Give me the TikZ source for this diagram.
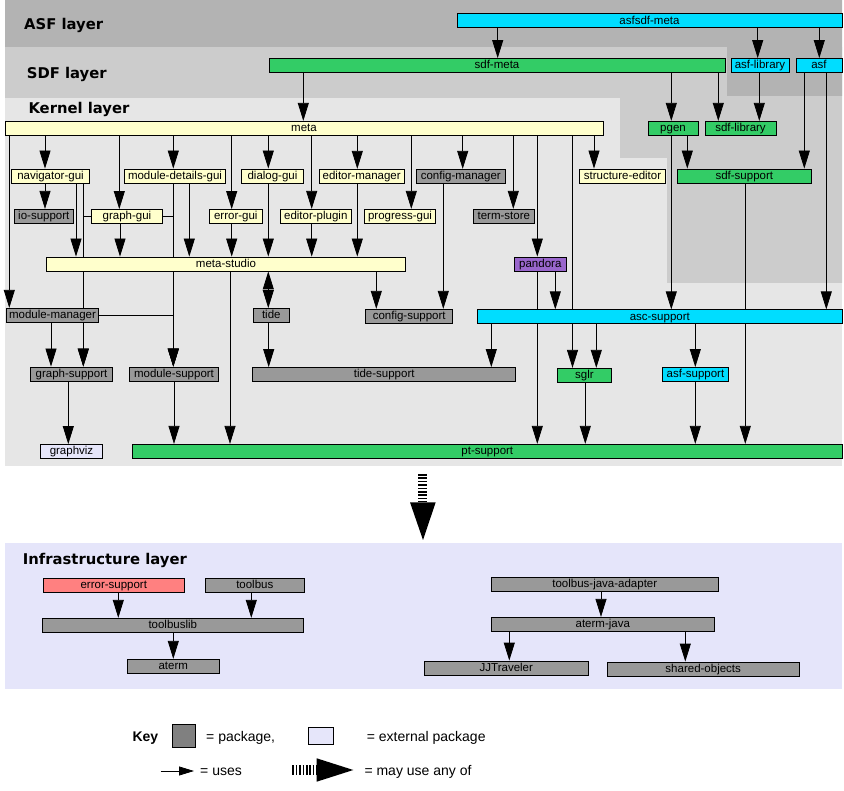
\documentclass[tikz,border=0pt]{standalone}
\usepackage{fontspec}
\setmainfont{Liberation Sans}
\newfontfamily\layerfont{DejaVu Sans}
\usepackage{tikz}
\usetikzlibrary{arrows.meta}
\pgfdeclarelayer{back}
\pgfdeclarelayer{wires}
\pgfsetlayers{back,wires,main}
\definecolor{asfbg}{RGB}{179,179,179}
\definecolor{sdfbg}{RGB}{204,204,204}
\definecolor{kernelbg}{RGB}{230,230,230}
\definecolor{infrabg}{RGB}{229,229,250}
\definecolor{guiyellow}{RGB}{255,255,204}
\definecolor{pkggray}{RGB}{153,153,153}
\definecolor{sdfgreen}{RGB}{51,204,102}
\definecolor{asfcyan}{RGB}{0,221,255}
\definecolor{pandorapurple}{RGB}{153,102,204}
\definecolor{errred}{RGB}{255,128,128}
\definecolor{extlav}{RGB}{230,230,250}
\definecolor{keygray}{RGB}{128,128,128}

\begin{document}
\begin{tikzpicture}[x=1pt,y=-1pt,
	pkg/.style={draw=black, line width=0.8pt, inner sep=0pt, minimum height=14pt,
		text height=8pt, text depth=1pt, font=\fontsize{11.5}{12}\selectfont},
	gui/.style={pkg, fill=guiyellow},
	core/.style={pkg, fill=pkggray},
	sdfpkg/.style={pkg, fill=sdfgreen},
	asfpkg/.style={pkg, fill=asfcyan},
	extpkg/.style={pkg, fill=extlav},
	uses/.style={line width=0.8pt, -{Triangle[length=18pt,width=11pt]}},
	both/.style={line width=0.8pt, {Triangle[length=18pt,width=11pt]}-{Triangle[length=18pt,width=11pt]}},
	layer/.style={anchor=base west, inner sep=0pt, font=\layerfont\bfseries\fontsize{14.8}{16}\selectfont},
	keytext/.style={anchor=base west, inner sep=0pt, font=\fontsize{14}{16}\selectfont}]
	\useasboundingbox (0,0) rectangle (844,791);
	\begin{pgfonlayer}{back}
		\fill[kernelbg] (5,98) rectangle (842,466);
		\fill[sdfbg] (5,47) -- (842,47) -- (842,283) -- (667,283) -- (667,158) -- (620,158) -- (620,98) -- (5,98) -- cycle;
		\fill[asfbg] (5,0) -- (842,0) -- (842,96) -- (727,96) -- (727,47) -- (5,47) -- cycle;
		\fill[infrabg] (5,543) rectangle (842,689);
	\end{pgfonlayer}
	\node[layer] (asflayer) at (24,30) {ASF layer};
	\node[layer] (sdflayer) at (26.7,78.3) {SDF layer};
	\node[layer] (kernellayer) at (28.3,113.3) {Kernel layer};
	\node[layer] (infralayer) at (22.7,565) {Infrastructure layer};
	\node[asfpkg, minimum width=385pt] (asfsdfmeta) at (649.5,20.8) {asfsdf-meta};
	\node[sdfpkg, minimum width=456pt] (sdfmeta) at (497,65.5) {sdf-meta};
	\node[asfpkg, minimum width=58pt] (asflib) at (760,65.5) {asf-library};
	\node[asfpkg, minimum width=46pt] (asf) at (819,65.5) {asf};
	\node[gui, minimum width=598pt] (meta) at (304,128.3) {meta};
	\node[sdfpkg, minimum width=50pt] (pgen) at (673,128.3) {pgen};
	\node[sdfpkg, minimum width=71pt] (sdflib) at (740.5,128.3) {sdf-library};
	\node[gui, minimum width=77.6pt] (navgui) at (50.5,176) {navigator-gui};
	\node[gui, minimum width=101.4pt] (moddetails) at (175,176) {module-details-gui};
	\node[gui, minimum width=61.6pt] (dialoggui) at (272.5,176) {dialog-gui};
	\node[gui, minimum width=84.7pt] (editormgr) at (361.7,176.3) {editor-manager};
	\node[core, minimum width=89pt] (configmgr) at (460.8,176.3) {config-manager};
	\node[gui, minimum width=86.4pt] (structed) at (622.5,176) {structure-editor};
	\node[sdfpkg, minimum width=134pt] (sdfsupport) at (744.3,176) {sdf-support};
	\node[core, minimum width=59pt] (iosupport) at (43.8,216.3) {io-support};
	\node[gui, minimum width=70.6pt] (graphgui) at (127,216.5) {graph-gui};
	\node[gui, minimum width=53.7pt] (errorgui) at (235.8,216.5) {error-gui};
	\node[gui, minimum width=71.7pt] (editorplugin) at (315.8,216.3) {editor-plugin};
	\node[gui, minimum width=71.4pt] (progressgui) at (400,216.3) {progress-gui};
	\node[core, minimum width=61pt] (termstore) at (503.8,216.3) {term-store};
	\node[gui, minimum width=358.6pt] (metastudio) at (226,264) {meta-studio};
	\node[pkg, fill=pandorapurple, minimum width=51.3pt] (pandora) at (540.3,264) {pandora};
	\node[core, minimum width=91.6pt] (modmgr) at (52.5,315.3) {module-manager};
	\node[core, minimum width=36pt] (tide) at (271.3,315.5) {tide};
	\node[core, minimum width=87pt] (configsupport) at (409.2,316.3) {config-support};
	\node[asfpkg, minimum width=365pt] (ascsupport) at (659.8,316.8) {asc-support};
	\node[core, minimum width=82.4pt] (graphsupport) at (71.5,374) {graph-support};
	\node[core, minimum width=89.4pt] (modsupport) at (174,374) {module-support};
	\node[core, minimum width=263pt] (tidesupport) at (384.2,374.5) {tide-support};
	\node[sdfpkg, minimum width=54.4pt] (sglr) at (584.5,375.3) {sglr};
	\node[asfpkg, minimum width=66.4pt] (asfsupport) at (695.5,374.5) {asf-support};
	\node[extpkg, minimum width=62.4pt] (graphviz) at (71.5,451.5) {graphviz};
	\node[sdfpkg, minimum width=709.3pt] (ptsupport) at (487.3,451.3) {pt-support};
	\node[pkg, fill=errred, minimum width=141pt] (errorsupport) at (113.8,585) {error-support};
	\node[core, minimum width=99pt] (toolbus) at (254.8,585) {toolbus};
	\node[core, minimum width=261pt] (toolbuslib) at (172.8,625.3) {toolbuslib};
	\node[core, minimum width=92pt] (aterm) at (173.3,666.3) {aterm};
	\node[core, minimum width=227pt] (tbjava) at (604.8,584.2) {toolbus-java-adapter};
	\node[core, minimum width=223pt] (atermjava) at (602.8,624.3) {aterm-java};
	\node[core, minimum width=164.7pt] (jjtraveler) at (506.3,668) {JJTraveler};
	\node[core, minimum width=191.7pt] (sharedobj) at (703.2,669) {shared-objects};
	\begin{pgfonlayer}{wires}
		\draw[uses] (497.7,0 |- asfsdfmeta.south) -- (497.7,0 |- sdfmeta.north);
		\draw[uses] (757.7,0 |- asfsdfmeta.south) -- (757.7,0 |- asflib.north);
		\draw[uses] (819.3,0 |- asfsdfmeta.south) -- (819.3,0 |- asf.north);
		\draw[uses] (303.3,0 |- sdfmeta.south) -- (303.3,0 |- meta.north);
		\draw[uses] (671.3,0 |- sdfmeta.south) -- (671.3,0 |- pgen.north);
		\draw[uses] (718.3,0 |- sdfmeta.south) -- (718.3,0 |- sdflib.north);
		\draw[uses] (759.3,0 |- asflib.south) -- (759.3,0 |- sdflib.north);
		\draw[uses] (804.3,0 |- asf.south) -- (804.3,0 |- sdfsupport.north);
		\draw[uses] (826.3,0 |- asf.south) -- (826.3,0 |- ascsupport.north);
		\draw[uses] (687.3,0 |- pgen.south) -- (687.3,0 |- sdfsupport.north);
		\draw[uses] (671.3,0 |- pgen.south) -- (671.3,0 |- ascsupport.north);
		\draw[uses] (745.3,0 |- sdfsupport.south) -- (745.3,0 |- ptsupport.north);
		\draw[uses] (9.3,0 |- meta.south) -- (9.3,0 |- modmgr.north);
		\draw[uses] (45,0 |- meta.south) -- (45,0 |- navgui.north);
		\draw[uses] (119.3,0 |- meta.south) -- (119.3,0 |- graphgui.north);
		\draw[uses] (173.3,0 |- meta.south) -- (173.3,0 |- moddetails.north);
		\draw[uses] (231.7,0 |- meta.south) -- (231.7,0 |- errorgui.north);
		\draw[uses] (268.3,0 |- meta.south) -- (268.3,0 |- dialoggui.north);
		\draw[uses] (311.7,0 |- meta.south) -- (311.7,0 |- editorplugin.north);
		\draw[uses] (357.3,0 |- meta.south) -- (357.3,0 |- editormgr.north);
		\draw[uses] (411.3,0 |- meta.south) -- (411.3,0 |- progressgui.north);
		\draw[uses] (462.7,0 |- meta.south) -- (462.7,0 |- configmgr.north);
		\draw[uses] (513.3,0 |- meta.south) -- (513.3,0 |- termstore.north);
		\draw[uses] (537.3,0 |- meta.south) -- (537.3,0 |- pandora.north);
		\draw[uses] (572.5,0 |- meta.south) -- (572.5,0 |- sglr.north);
		\draw[uses] (594,0 |- meta.south) -- (594,0 |- structed.north);
		\draw[uses] (45,0 |- navgui.south) -- (45,0 |- iosupport.north);
		\draw[uses] (76,0 |- navgui.south) -- (76,0 |- metastudio.north);
		\draw[uses] (83.3,0 |- navgui.south) -- (83.3,0 |- graphsupport.north);
		\draw[uses] (120,0 |- graphgui.south) -- (120,0 |- metastudio.north);
		\draw[uses] (graphgui.west) -| (83.3,0 |- graphsupport.north);
		\draw[uses] (graphgui.east) -| (173.3,0 |- modsupport.north);
		\draw[uses] (189.3,0 |- moddetails.south) -- (189.3,0 |- metastudio.north);
		\draw[uses] (173.3,0 |- moddetails.south) -- (173.3,0 |- modsupport.north);
		\draw[uses] (231.7,0 |- errorgui.south) -- (231.7,0 |- metastudio.north);
		\draw[uses] (268.3,0 |- dialoggui.south) -- (268.3,0 |- metastudio.north);
		\draw[uses] (311.7,0 |- editorplugin.south) -- (311.7,0 |- metastudio.north);
		\draw[uses] (357.3,0 |- editormgr.south) -- (357.3,0 |- metastudio.north);
		\draw[uses] (443.3,0 |- configmgr.south) -- (443.3,0 |- configsupport.north);
		\draw[both] (268.3,0 |- metastudio.south) -- (268.3,0 |- tide.north);
		\draw[uses] (376.3,0 |- metastudio.south) -- (376.3,0 |- configsupport.north);
		\draw[uses] (230,0 |- metastudio.south) -- (230,0 |- ptsupport.north);
		\draw[uses] (268.7,0 |- tide.south) -- (268.7,0 |- tidesupport.north);
		\draw[uses] (51,0 |- modmgr.south) -- (51,0 |- graphsupport.north);
		\draw[uses] (modmgr.east) -| (173.3,0 |- modsupport.north);
		\draw[uses] (68.3,0 |- graphsupport.south) -- (68.3,0 |- graphviz.north);
		\draw[uses] (174,0 |- modsupport.south) -- (174,0 |- ptsupport.north);
		\draw[uses] (555.3,0 |- pandora.south) -- (555.3,0 |- ascsupport.north);
		\draw[uses] (537.3,0 |- pandora.south) -- (537.3,0 |- ptsupport.north);
		\draw[uses] (491.3,0 |- ascsupport.south) -- (491.3,0 |- tidesupport.north);
		\draw[uses] (596.3,0 |- ascsupport.south) -- (596.3,0 |- sglr.north);
		\draw[uses] (695.3,0 |- ascsupport.south) -- (695.3,0 |- asfsupport.north);
		\draw[uses] (585.3,0 |- sglr.south) -- (585.3,0 |- ptsupport.north);
		\draw[uses] (695.3,0 |- asfsupport.south) -- (695.3,0 |- ptsupport.north);
		\draw[uses] (118.3,0 |- errorsupport.south) -- (118.3,0 |- toolbuslib.north);
		\draw[uses] (251.3,0 |- toolbus.south) -- (251.3,0 |- toolbuslib.north);
		\draw[uses] (173.3,0 |- toolbuslib.south) -- (173.3,0 |- aterm.north);
		\draw[uses] (601,0 |- tbjava.south) -- (601,0 |- atermjava.north);
		\draw[uses] (509.3,0 |- atermjava.south) -- (509.3,0 |- jjtraveler.north);
		\draw[uses] (685.3,0 |- atermjava.south) -- (685.3,0 |- sharedobj.north);
	\end{pgfonlayer}
	\coordinate (mayfrom) at (422.8,474);
	\coordinate (mayto) at (422.8,502.3);
	\draw[line width=9pt, dash pattern=on 1.7pt off 1.7pt] (mayfrom) -- (mayto);
	\fill (410,502.3) -- (435.7,502.3) -- (423,540) -- cycle;
	\node[keytext, font=\fontsize{14}{16}\selectfont\bfseries] (keylabel) at (132.3,741) {Key};
	\node[draw, line width=0.8pt, fill=keygray, minimum width=23.4pt, minimum height=23.7pt, inner sep=0pt] (keypkg) at (184,735.8) {};
	\node[keytext] (keypkgtext) at (206,741) {= package,};
	\node[draw, line width=0.8pt, fill=extlav, minimum width=24.7pt, minimum height=16.6pt, inner sep=0pt] (keyext) at (320.6,736) {};
	\node[keytext] (keyexttext) at (366.7,741) {= external package};
	\coordinate (keyusefrom) at (160.7,771);
	\coordinate (keyuseto) at (194,771);
	\draw[line width=0.8pt, -{Triangle[length=15pt,width=9pt]}] (keyusefrom) -- (keyuseto);
	\node[keytext] (keyusetext) at (200,775) {= uses};
	\coordinate (keymayfrom) at (292.3,770);
	\coordinate (keymayto) at (316.7,770);
	\draw[line width=10pt, dash pattern=on 1.7pt off 1.7pt] (keymayfrom) -- (keymayto);
	\fill (316.7,758.3) -- (353.3,770) -- (316.7,781.7) -- cycle;
	\node[keytext] (keymaytext) at (364.3,775) {= may use any of};
\end{tikzpicture}
\end{document}
